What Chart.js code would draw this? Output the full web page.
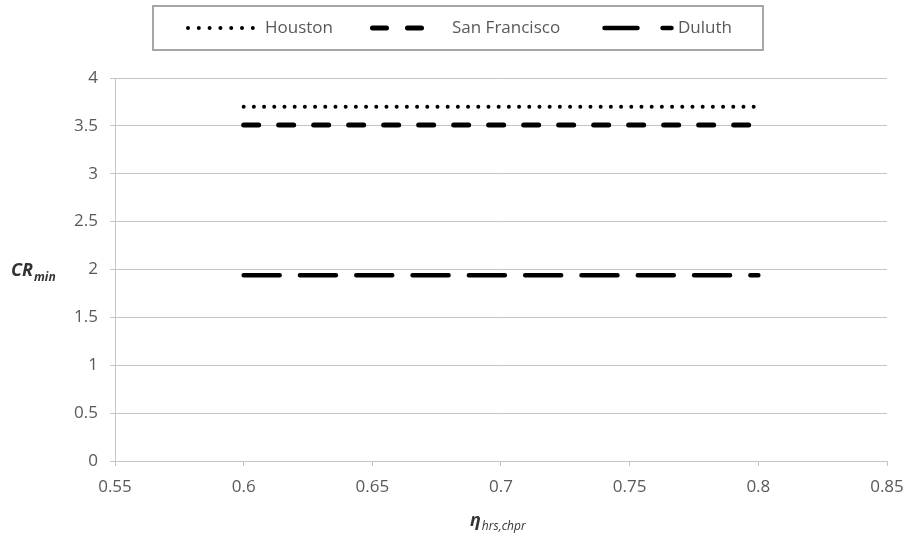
<!DOCTYPE html>
<html>
<head>
<meta charset="utf-8">
<script src="https://cdn.jsdelivr.net/npm/chart.js@4"></script>
<style>
  body { margin: 0; background: #fff; }
  #wrap { width: 911px; height: 539px; position: relative; }
</style>
</head>
<body>
<div id="wrap"><canvas id="crChart"></canvas></div>
<script>
const efficiency = [0.6, 0.65, 0.7, 0.75, 0.8];
const houston = [3.7, 3.7, 3.7, 3.7, 3.7];
const sanFrancisco = [3.51, 3.51, 3.51, 3.51, 3.51];
const duluth = [1.94, 1.94, 1.94, 1.94, 1.94];
const seriesNames = ["Houston", "San Francisco", "Duluth"];
const xTickLabels = ["0.55", "0.6", "0.65", "0.7", "0.75", "0.8", "0.85"];
const yTickLabels = ["0", "0.5", "1", "1.5", "2", "2.5", "3", "3.5", "4"];

const textColor = "#595959";
const gridColor = "#c4c4c4";

function toPoints(values) {
  return efficiency.map((x, i) => ({ x: x, y: values[i] }));
}

// legend samples are drawn by hand, dash patterns differ a bit from the plot
const legendItems = [
  { text: seriesNames[0], x1: 188, x2: 253, width: 4, dash: [0, 10.8], textX: 265 },
  { text: seriesNames[1], x1: 372.5, x2: 422.5, width: 5, dash: [14, 21], textX: 452 },
  { text: seriesNames[2], x1: 604.5, x2: 671.5, width: 4.5, dash: [33, 25, 9, 100], textX: 678 },
];

const drawExtras = {
  id: "drawExtras",
  afterDraw(chart) {
    const ctx = chart.ctx;
    ctx.save();

    // legend frame
    ctx.strokeStyle = "#a6a6a6";
    ctx.lineWidth = 2;
    ctx.strokeRect(153, 6, 610, 44);

    const ly = 28;
    legendItems.forEach((item) => {
      ctx.beginPath();
      ctx.setLineDash(item.dash);
      ctx.lineCap = "round";
      ctx.lineWidth = item.width;
      ctx.strokeStyle = "#000";
      ctx.moveTo(item.x1, ly);
      ctx.lineTo(item.x2, ly);
      ctx.stroke();
      ctx.setLineDash([]);
      ctx.fillStyle = textColor;
      ctx.font = "17px 'Open Sans'";
      ctx.textBaseline = "middle";
      ctx.textAlign = "left";
      ctx.fillText(item.text, item.textX, ly);
    });

    // axis titles with subscripts
    ctx.textBaseline = "alphabetic";
    ctx.fillStyle = "#333";
    ctx.font = "bold italic 18px 'Open Sans'";
    ctx.fillText("CR", 11, 276);
    let w = ctx.measureText("CR").width;
    ctx.font = "bold italic 12px 'Open Sans'";
    ctx.fillText("min", 11 + w + 1, 281);

    ctx.font = "bold italic 18px 'Open Sans'";
    ctx.fillText("\u03b7", 470, 526);
    w = ctx.measureText("\u03b7").width;
    ctx.font = "italic 12px 'Open Sans'";
    ctx.fillText("hrs,chpr", 470 + w + 1, 530);

    ctx.restore();
  },
};

const ctx = document.getElementById("crChart");
new Chart(ctx, {
  type: "line",
  data: {
    datasets: [
      {
        label: seriesNames[0],
        data: toPoints(houston),
        borderColor: "#000",
        borderWidth: 4,
        borderDash: [0, 10.2],
        borderCapStyle: "round",
        pointRadius: 0,
      },
      {
        label: seriesNames[1],
        data: toPoints(sanFrancisco),
        borderColor: "#000",
        borderWidth: 5,
        borderDash: [15, 20],
        borderCapStyle: "round",
        pointRadius: 0,
      },
      {
        label: seriesNames[2],
        data: toPoints(duluth),
        borderColor: "#000",
        borderWidth: 4.5,
        borderDash: [36, 20.3],
        borderCapStyle: "round",
        pointRadius: 0,
      },
    ],
  },
  options: {
    responsive: true,
    maintainAspectRatio: false,
    animation: false,
    layout: { padding: { left: 0, right: 24, top: 78, bottom: 0 } },
    plugins: {
      legend: { display: false },
      tooltip: { enabled: false },
    },
    scales: {
      x: {
        type: "linear",
        min: 0.55,
        max: 0.85,
        afterFit: (scale) => {
          scale.height = 78;
          scale.paddingLeft = 0;
          scale.paddingRight = 0;
        },
        ticks: {
          stepSize: 0.05,
          color: textColor,
          font: { family: "Open Sans", size: 17 },
          padding: 11,
          maxRotation: 0,
          callback: (v, i) => xTickLabels[i],
        },
        grid: { drawOnChartArea: false, tickLength: 5, color: gridColor },
        border: { color: gridColor },
      },
      y: {
        min: 0,
        max: 4,
        afterFit: (scale) => { scale.width = 115; },
        ticks: {
          stepSize: 0.5,
          color: textColor,
          font: { family: "Open Sans", size: 17 },
          padding: 12,
          callback: (v, i) => yTickLabels[i],
        },
        grid: { color: gridColor, tickLength: 5 },
        border: { color: gridColor },
      },
    },
  },
  plugins: [drawExtras],
});
</script>
</body>
</html>
